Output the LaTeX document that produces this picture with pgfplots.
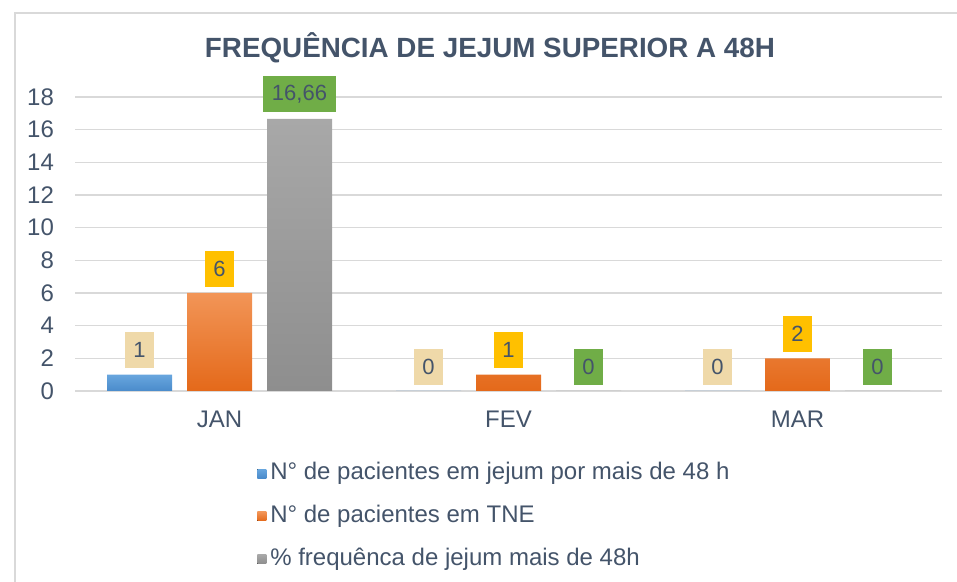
\documentclass[border=0pt]{standalone}
\usepackage{pgfplots}
\pgfplotsset{compat=1.18}
\usepackage{fontspec}
\setmainfont{Liberation Sans}
\definecolor{txt}{HTML}{44546A}
\definecolor{gridc}{HTML}{D9D9D9}
\definecolor{blueT}{HTML}{68A6DE}
\definecolor{blueB}{HTML}{4A8BCB}
\definecolor{orT}{HTML}{F29557}
\definecolor{orB}{HTML}{E4691A}
\definecolor{grT}{HTML}{A8A8A8}
\definecolor{grB}{HTML}{8E8E8E}
\definecolor{tan}{HTML}{EFD9A9}
\definecolor{gold}{HTML}{FFC000}
\definecolor{grn}{HTML}{70AD47}
\begin{document}
\begin{tikzpicture}
\useasboundingbox (0,0) rectangle (478.5pt,291pt);
\draw[gridc, line width=0.8pt] (7.5pt,0) -- (7.5pt,284.5pt) -- (478.5pt,284.5pt);
\node[text=txt, font=\bfseries\fontsize{13.9}{15}\selectfont] at (245pt,267pt) {FREQUÊNCIA DE JEJUM SUPERIOR A 48H};
\begin{axis}[
  at={(37.5pt,95.5pt)}, anchor=south west,
  scale only axis, width=433.5pt, height=147pt,
  xmin=-0.5, xmax=2.5, ymin=0, ymax=18,
  xtick={0,1,2}, xticklabels={JAN,FEV,MAR},
  ytick={0,2,...,18},
  ymajorgrids, grid style={gridc, line width=0.6pt},
  axis line style={draw=none},
  major tick length=0pt,
  tick label style={text=txt, font=\fontsize{12}{14}\selectfont},
  /pgf/number format/assume math mode=true,
  yticklabel style={xshift=-7pt},
  xticklabel style={yshift=-6.5pt},
  ybar=7.5pt, bar width=32.5pt,
  clip=false,
  nodes near coords={\pgfmathprintnumber[use comma, fixed, precision=2, assume math mode=true]{\pgfplotspointmeta}},
  every node near coord/.append style={anchor=south, text=txt, font=\fontsize{11}{12}\selectfont, minimum height=18pt, inner xsep=4.3pt, inner ysep=2pt, yshift=3pt},
  legend style={at={(0.2075,-0.215)}, anchor=north west, draw=none, fill=none, font=\fontsize{12}{14}\selectfont, text=txt, row sep=7.2pt, legend cell align=left, inner xsep=1pt},
  legend image code/.code={\fill[#1] (0pt,-2.6pt) rectangle (4.5pt,1.9pt);},
]
\addplot[draw=none, top color=blueT, bottom color=blueB, every node near coord/.append style={fill=tan}] coordinates {(0,1) (1,0) (2,0)};
\addplot[draw=none, top color=orT, bottom color=orB, every node near coord/.append style={fill=gold}] coordinates {(0,6) (1,1) (2,2)};
\addplot[draw=none, top color=grT, bottom color=grB, every node near coord/.append style={fill=grn}] coordinates {(0,16.66) (1,0) (2,0)};
\legend{N° de pacientes em jejum por mais de 48 h, N° de pacientes em TNE, \% frequênca de jejum mais de 48h}
\end{axis}
\end{tikzpicture}
\end{document}
